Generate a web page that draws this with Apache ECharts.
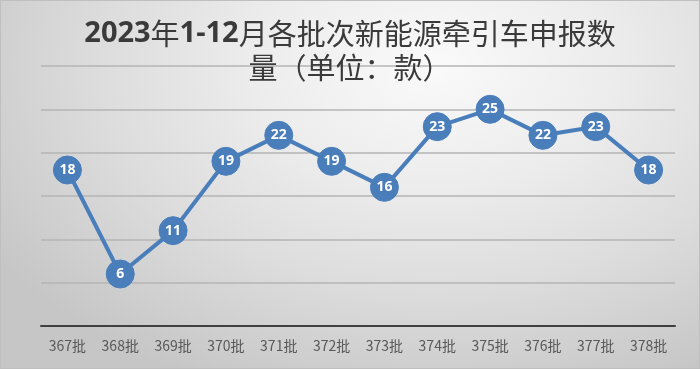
<!DOCTYPE html>
<html><head><meta charset="utf-8">
<script src="https://cdn.jsdelivr.net/npm/echarts@6/dist/echarts.min.js"></script>
<style>
html,body{margin:0;padding:0;}
#c{width:700px;height:369px;box-sizing:border-box;border:1px solid #bfbfbf;
background:radial-gradient(ellipse 75% 95% at 62% 18%, #fafafa 0%, #ececec 35%, #dcdcdc 65%, #c6c6c6 100%);}
</style></head>
<body><div id="c"></div>
<script>
const titleLine1 = ['2023', '年', '1-12', '月各批次新能源牵引车申报数'];
const titleLine2 = '量（单位：款）';
const categories = ['367批','368批','369批','370批','371批','372批','373批','374批','375批','376批','377批','378批'];
const values = [18, 6, 11, 19, 22, 19, 16, 23, 25, 22, 23, 18];
const yMin = 0, yMax = 30, yInterval = 5;

const titleText = '{d|' + titleLine1[0] + '}{c|' + titleLine1[1] + '}{d|' + titleLine1[2] + '}{c|' + titleLine1[3] + '}\n{c|' + titleLine2 + '}';
const fam = '"Noto Sans CJK SC", "Noto Sans", sans-serif';
const chart = echarts.init(document.getElementById('c'), null, {renderer:'canvas'});
chart.setOption({
  backgroundColor: 'transparent',
  animation: false,
  title: {
    text: titleText,
    left: 'center',
    top: 11,
    textStyle: {
      fontFamily: fam, fontSize: 29, color: '#3a3a3a', lineHeight: 34,
      rich: {
        d: { fontFamily: '"Open Sans", "Noto Sans", sans-serif', fontSize: 29, fontWeight: 'bold', color: '#3a3a3a', lineHeight: 34 },
        c: { fontFamily: fam, fontSize: 29, fontWeight: 'normal', color: '#3a3a3a', lineHeight: 34 }
      }
    }
  },
  grid: { left: 40, right: 24, top: 65, bottom: 42 },
  xAxis: {
    type: 'category', data: categories, boundaryGap: true,
    axisLine: { lineStyle: { color: '#404040', width: 2 } },
    axisTick: { show: false },
    axisLabel: { color: '#595959', fontSize: 14, margin: 13, fontFamily: fam }
  },
  yAxis: {
    type: 'value', min: yMin, max: yMax, interval: yInterval,
    axisLabel: { show: false }, axisLine: { show: false }, axisTick: { show: false },
    splitLine: { lineStyle: { color: '#b4b4b4', width: 1.5 } }
  },
  series: [{
    type: 'line', data: values,
    symbol: 'circle', symbolSize: 28,
    lineStyle: { color: '#4a7ebb', width: 4 },
    itemStyle: { color: '#4a7ebb', borderColor: '#4a7ebb' },
    label: { show: true, position: 'inside', color: '#ffffff', fontSize: 14, fontWeight: 'bold',
      fontFamily: '"Open Sans", "Noto Sans", sans-serif' },
    z: 3
  }]
});
</script></body></html>
